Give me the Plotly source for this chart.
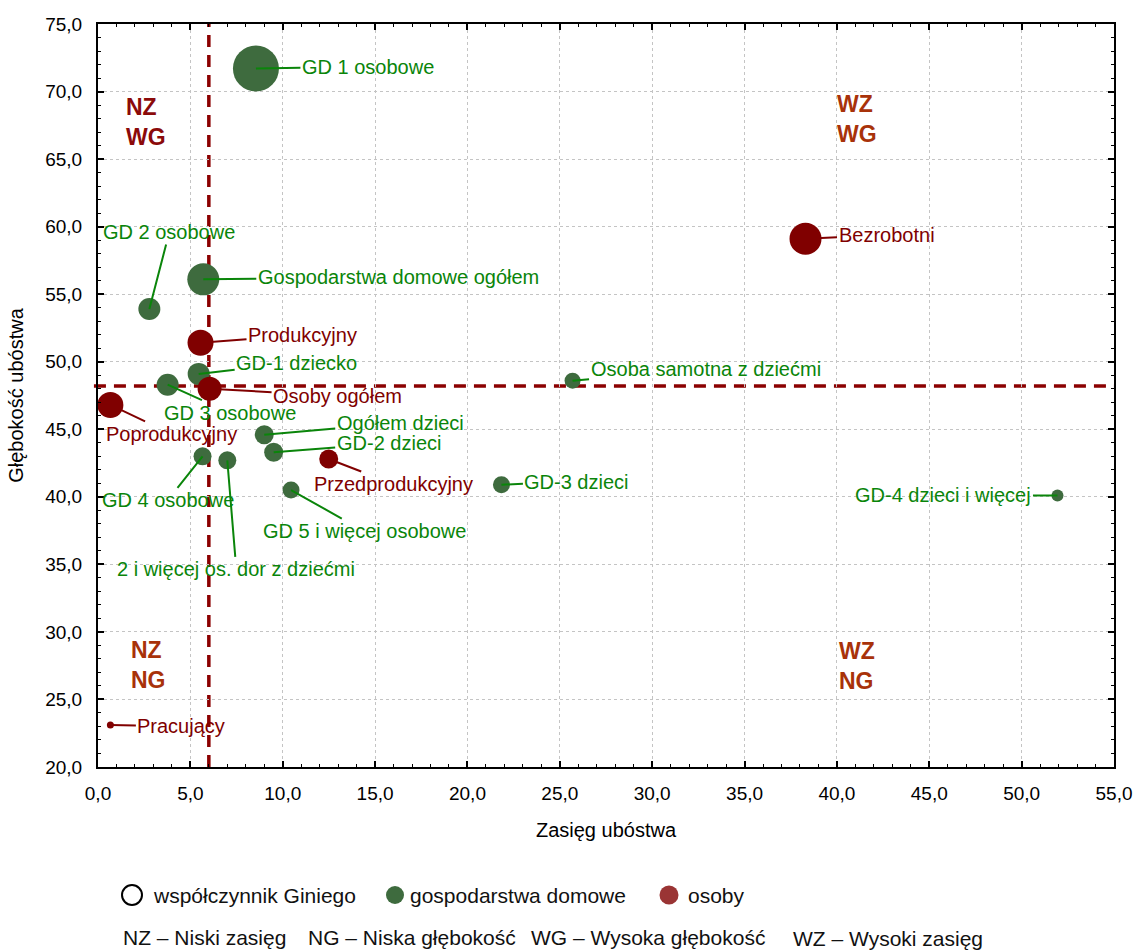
import plotly.graph_objects as go

# ---------------- data ----------------
hh_names = ["GD 1 osobowe", "GD 2 osobowe", "Gospodarstwa domowe ogółem", "GD-1 dziecko",
            "GD 3 osobowe", "Ogółem dzieci", "GD-2 dzieci", "GD 4 osobowe",
            "2 i więcej os. dor z dziećmi", "GD 5 i więcej osobowe", "GD-3 dzieci",
            "Osoba samotna z dziećmi", "GD-4 dzieci i więcej"]
hh_zasieg = [8.55, 2.78, 5.70, 5.45, 3.77, 9.00, 9.51, 5.66, 7.00, 10.45, 21.84, 25.69, 51.94]
hh_glebokosc = [71.7, 53.9, 56.1, 49.1, 48.3, 44.6, 43.3, 43.0, 42.7, 40.5, 40.9, 48.6, 40.1]
hh_gini = [46, 22, 32, 22, 22, 19, 19, 18, 18, 17, 17, 16, 12]

os_names = ["Bezrobotni", "Produkcyjny", "Osoby ogółem", "Poprodukcyjny", "Przedprodukcyjny", "Pracujący"]
os_zasieg = [38.3, 5.55, 6.04, 0.67, 12.49, 0.67]
os_glebokosc = [59.1, 51.4, 48.0, 46.8, 42.8, 23.1]
os_gini = [32, 26, 24, 26, 19, 7]

threshold_zasieg = 6.0
threshold_glebokosc = 48.2

x_ticks = [0, 5, 10, 15, 20, 25, 30, 35, 40, 45, 50, 55]
y_ticks = [20, 25, 30, 35, 40, 45, 50, 55, 60, 65, 70, 75]

# ---------------- label offsets (pixels, styling) ----------------
hh_offsets = [(112, -2), (20, -77), (195, -2), (98, -11), (62, 28), (136, -12), (115, -9),
              (-35, 44), (9, 109), (73, 41), (75, -3), (133, -12), (-114, 0)]
os_offsets = [(81, -4), (102, -8), (128, 7), (61, 29), (65, 25), (71, 1)]

FONT = "Liberation Sans, Arial, sans-serif"
GREEN_M = "#3e6b3e"
GREEN_T = "#0a850a"
RED_M = "#800000"
RED_T = "#800000"
LINE_RED = "#8b0000"

fig = go.Figure()
fig.add_trace(go.Scatter(x=hh_zasieg, y=hh_glebokosc, mode="markers", name="gospodarstwa domowe",
                         marker=dict(size=hh_gini, sizemode="diameter", color=GREEN_M, line=dict(width=0), opacity=1),
                         text=hh_names, cliponaxis=False, showlegend=False))
fig.add_trace(go.Scatter(x=os_zasieg, y=os_glebokosc, mode="markers", name="osoby",
                         marker=dict(size=os_gini, sizemode="diameter", color=RED_M, line=dict(width=0), opacity=1),
                         text=os_names, cliponaxis=False, showlegend=False))

# threshold lines
fig.add_shape(type="line", xref="x", yref="paper", x0=threshold_zasieg, x1=threshold_zasieg, y0=0, y1=1,
              line=dict(color=LINE_RED, width=3.5, dash="12px,8px"), layer="below")
fig.add_shape(type="line", xref="paper", yref="y", x0=-0.004, x1=1, y0=threshold_glebokosc, y1=threshold_glebokosc,
              line=dict(color=LINE_RED, width=3.5, dash="12px,8px"), layer="below")

ann = []
for n, x, y, (ax, ay) in zip(hh_names, hh_zasieg, hh_glebokosc, hh_offsets):
    ann.append(dict(x=x, y=y, text=n, showarrow=True, arrowhead=0, arrowwidth=2, arrowcolor=GREEN_T,
                    ax=ax, ay=ay, standoff=0, font=dict(family=FONT, size=20, color=GREEN_T)))
for n, x, y, (ax, ay) in zip(os_names, os_zasieg, os_glebokosc, os_offsets):
    ann.append(dict(x=x, y=y, text=n, showarrow=True, arrowhead=0, arrowwidth=2, arrowcolor=RED_T,
                    ax=ax, ay=ay, standoff=0, font=dict(family=FONT, size=20, color=RED_T)))

# quadrant labels
quad = [("NZ<br>WG", 1.42, 67.75, "#8b0a0a"), ("WZ<br>WG", 39.9, 68.0, "#a8320a"),
        ("NZ<br>NG", 1.7, 27.57, "#a8320a"), ("WZ<br>NG", 40.0, 27.5, "#a8320a")]
for t, x, y, c in quad:
    ann.append(dict(x=x, y=y, text="<b>" + t + "</b>", showarrow=False, xanchor="left", align="left",
                    font=dict(family=FONT, size=23, color=c)))

# custom legend / footnote (page pixel -> paper coords)
def px2p(px, py):
    return (px - 98) / 1016, (767 - py) / 743

legend_text = [("współczynnik Giniego", 151, 895), ("gospodarstwa domowe", 408, 895), ("osoby", 686, 895),
               ("NZ – Niski zasięg", 121, 937), ("NG – Niska głębokość", 306, 937),
               ("WG – Wysoka głębokość", 529, 937), ("WZ – Wysoki zasięg", 791, 938)]
for t, px, py in legend_text:
    xp, yp = px2p(px, py)
    ann.append(dict(x=xp, y=yp, xref="paper", yref="paper", text=t, showarrow=False, xanchor="left",
                    yanchor="middle", font=dict(family=FONT, size=21, color="#111111")))

legend_circles = [(132, 895, 20, "white", "black", 2), (395, 895, 18, GREEN_M, GREEN_M, 0),
                  (669, 895, 19, "#9a3434", "#9a3434", 0)]
for cx, cy, d, fc, lc, lw in legend_circles:
    x0, y0 = px2p(cx - d / 2, cy + d / 2)
    x1, y1 = px2p(cx + d / 2, cy - d / 2)
    fig.add_shape(type="circle", xref="paper", yref="paper", x0=x0, x1=x1, y0=y0, y1=y1,
                  fillcolor=fc, line=dict(color=lc, width=lw))

axis_common = dict(showline=True, linecolor="black", linewidth=2, mirror="ticks", ticks="inside",
                   ticklen=6, tickwidth=1.5, tickcolor="black", showgrid=True, gridcolor="#c4c4c4",
                   griddash="dot", gridwidth=1, zeroline=False, tickformat=".1f", automargin=False,
                   tickfont=dict(family=FONT, size=19, color="black"),
                   minor=dict(dtick=1, ticks="inside", ticklen=3, tickwidth=1.2, tickcolor="black", showgrid=False))

fig.update_layout(
    width=1134, height=950,
    margin=dict(l=98, r=20, t=24, b=183),
    paper_bgcolor="white", plot_bgcolor="white",
    separators=",.",
    font=dict(family=FONT, color="black"),
    xaxis=dict(range=[0, 55], tickvals=x_ticks, ticklabelstandoff=8,
               title=dict(text="Zasięg ubóstwa", font=dict(family=FONT, size=20), standoff=20), **axis_common),
    yaxis=dict(range=[20, 75], tickvals=y_ticks, ticklabelstandoff=10,
               title=dict(text="Głębokość ubóstwa", font=dict(family=FONT, size=20), standoff=16), **axis_common),
    annotations=ann,
    showlegend=False,
)

# remove the default 8px page margin so the 1134x950 figure fills the window exactly
fig.write_html("out.html", config={"displayModeBar": False},
               post_script="document.body.style.margin='0';document.body.style.overflow='hidden';")
